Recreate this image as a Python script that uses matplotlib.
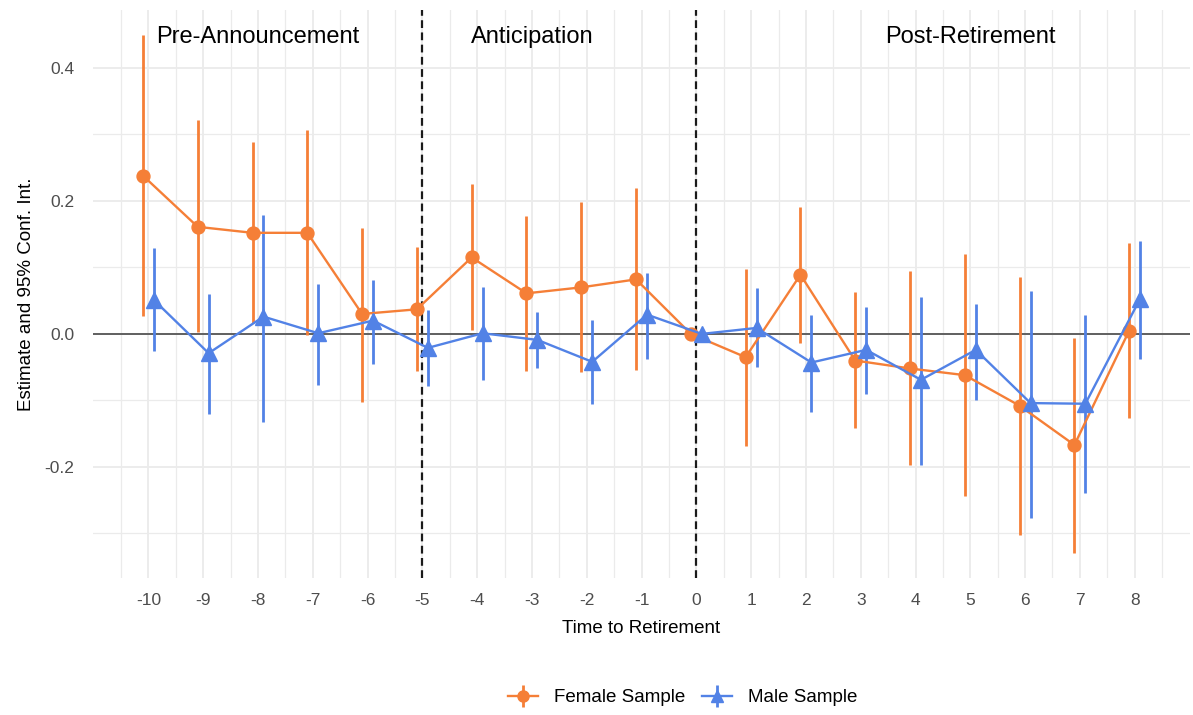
import matplotlib
matplotlib.use('Agg')
import matplotlib.pyplot as plt
from matplotlib.lines import Line2D
from matplotlib.legend_handler import HandlerTuple
import numpy as np

plt.rcParams['font.family'] = ['Liberation Sans', 'DejaVu Sans']
plt.rcParams['axes.unicode_minus'] = False

# event time
years = np.arange(-10, 9)

female_est = [0.238, 0.161, 0.152, 0.152, 0.030, 0.037, 0.115, 0.061, 0.070, 0.082,
              0.0, -0.035, 0.089, -0.040, -0.052, -0.062, -0.108, -0.167, 0.005]
female_lo = [0.027, 0.003, 0.016, -0.002, -0.103, -0.056, 0.006, -0.056, -0.058, -0.055,
             0.0, -0.168, -0.013, -0.142, -0.197, -0.243, -0.302, -0.330, -0.127]
female_hi = [0.450, 0.321, 0.288, 0.307, 0.159, 0.130, 0.226, 0.178, 0.198, 0.219,
             0.0, 0.098, 0.191, 0.063, 0.095, 0.120, 0.085, -0.006, 0.136]

male_est = [0.051, -0.029, 0.026, 0.001, 0.020, -0.021, 0.001, -0.009, -0.042, 0.029,
            0.0, 0.009, -0.043, -0.024, -0.069, -0.024, -0.104, -0.105, 0.053]
male_lo = [-0.025, -0.120, -0.133, -0.077, -0.045, -0.079, -0.070, -0.051, -0.105, -0.038,
           0.0, -0.050, -0.117, -0.091, -0.197, -0.099, -0.277, -0.239, -0.038]
male_hi = [0.129, 0.060, 0.179, 0.075, 0.081, 0.036, 0.071, 0.033, 0.021, 0.092,
           0.0, 0.069, 0.029, 0.040, 0.056, 0.045, 0.065, 0.028, 0.140]

phases = ['Pre-Announcement', 'Anticipation', 'Post-Retirement']
phase_x = [-8, -3, 5]
cutoffs = [-5, 0]

ORANGE = '#F57F37'
BLUE = '#5282E6'
GRID = '#EBEBEB'
TXT = '#4D4D4D'

fig = plt.figure(figsize=(11.93, 7.15), dpi=100)
ax = fig.add_axes([0.078, 0.1916, 0.9195, 0.7944])

# grid like theme_minimal
ax.set_xticks(years)
ax.set_xticks(np.arange(-10.5, 9, 1), minor=True)
ax.set_yticks([-0.2, 0.0, 0.2, 0.4])
ax.set_yticks([-0.3, -0.1, 0.1, 0.3], minor=True)
ax.grid(which='major', color=GRID, linewidth=1.3, zorder=0)
ax.grid(which='minor', color=GRID, linewidth=0.9, zorder=0)
ax.set_axisbelow(True)
for s in ax.spines.values():
    s.set_visible(False)
ax.tick_params(which='both', length=0, labelsize=12.5, labelcolor=TXT)
ax.tick_params(axis='x', pad=10.5)
ax.tick_params(axis='y', pad=13.5)
ax.set_yticklabels(['-0.2', '0.0', '0.2', '0.4'])

ax.axhline(0, color='#3A3A3A', linewidth=1.1, zorder=1)
for c in cutoffs:
    ax.axvline(c, color='#1A1A1A', linestyle=(0, (3.5, 2)), linewidth=1.6, zorder=1)

fx = years - 0.1
mx = years + 0.1
ax.vlines(fx, female_lo, female_hi, color=ORANGE, linewidth=2, zorder=2)
ax.plot(fx, female_est, color=ORANGE, linewidth=1.7, marker='o', markersize=9.3, zorder=3)
ax.vlines(mx, male_lo, male_hi, color=BLUE, linewidth=2, zorder=2)
ax.plot(mx, male_est, color=BLUE, linewidth=1.7, marker='^', markersize=11, zorder=3)

for lab, px in zip(phases, phase_x):
    ax.text(px, 0.447, lab, ha='center', va='center', fontsize=17, color='black')

ax.set_xlim(-11.01, 9.01)
ax.set_ylim(-0.367, 0.487)
ax.set_xlabel('Time to Retirement', fontsize=13.5, labelpad=9)
ax.set_ylabel('Estimate and 95% Conf. Int.', fontsize=13.5, labelpad=7)

h_f = (Line2D([], [], color=ORANGE, linewidth=1.7, marker='o', markersize=8),
       Line2D([], [], color=ORANGE, linestyle='none', marker='|', markersize=16, markeredgewidth=2))
h_m = (Line2D([], [], color=BLUE, linewidth=1.7, marker='^', markersize=9),
       Line2D([], [], color=BLUE, linestyle='none', marker='|', markersize=16, markeredgewidth=2))
fig.legend([h_f, h_m], ['Female Sample', 'Male Sample'],
           handler_map={tuple: HandlerTuple(ndivide=1)},
           loc='center', bbox_to_anchor=(0.572, 0.024), ncol=2, frameon=False,
           fontsize=13.5, handlelength=1.6, columnspacing=0.9, handletextpad=0.85)

fig.savefig('out.png', dpi=100)
